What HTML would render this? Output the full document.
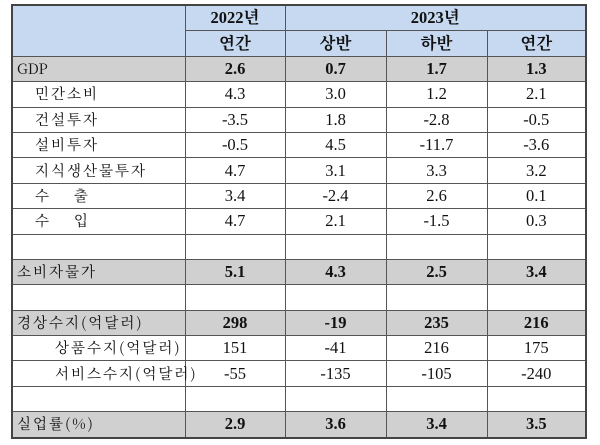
<!DOCTYPE html>
<html><head><meta charset="utf-8"><style>
html,body{margin:0;padding:0;background:#fff;width:600px;height:445px;overflow:hidden}
table{position:absolute;left:11px;top:4px;border-collapse:collapse;table-layout:fixed;width:574px;
font-family:"Liberation Serif","Noto Serif CJK SC",serif;font-size:16.5px;color:#111}
td{border:1px solid #555;height:24.4px;padding:0;text-align:center;line-height:20px;white-space:pre}
tr.h td{background:#c6d9f0;font-weight:bold}
tr.g td{background:#d0d0d0}
tr.g td.n{font-weight:bold}
td.l{text-align:left;padding-left:4px;font-family:"Noto Serif CJK SC","Liberation Serif",serif;font-size:14.5px;letter-spacing:2px}
td.l1{padding-left:22px}td.l2{padding-left:42px}
table{border:2px solid #444}
</style></head><body>
<table>
<colgroup><col style="width:173px"><col style="width:100px"><col style="width:101px"><col style="width:101px"><col style="width:99px"></colgroup>
<tr class="h"><td rowspan="2"></td><td>2022년</td><td colspan="3">2023년</td></tr>
<tr class="h"><td>연간</td><td>상반</td><td>하반</td><td>연간</td></tr>
<tr class="g"><td class="l" style="letter-spacing:0">GDP</td><td class="n">2.6</td><td class="n">0.7</td><td class="n">1.7</td><td class="n">1.3</td></tr>
<tr><td class="l l1">민간소비</td><td>4.3</td><td>3.0</td><td>1.2</td><td>2.1</td></tr>
<tr><td class="l l1">건설투자</td><td>-3.5</td><td>1.8</td><td>-2.8</td><td>-0.5</td></tr>
<tr><td class="l l1">설비투자</td><td>-0.5</td><td>4.5</td><td>-11.7</td><td>-3.6</td></tr>
<tr><td class="l l1">지식생산물투자</td><td>4.7</td><td>3.1</td><td>3.3</td><td>3.2</td></tr>
<tr><td class="l l1">수    출</td><td>3.4</td><td>-2.4</td><td>2.6</td><td>0.1</td></tr>
<tr><td class="l l1">수    입</td><td>4.7</td><td>2.1</td><td>-1.5</td><td>0.3</td></tr>
<tr><td></td><td></td><td></td><td></td><td></td></tr>
<tr class="g"><td class="l">소비자물가</td><td class="n">5.1</td><td class="n">4.3</td><td class="n">2.5</td><td class="n">3.4</td></tr>
<tr><td></td><td></td><td></td><td></td><td></td></tr>
<tr class="g"><td class="l">경상수지(억달러)</td><td class="n">298</td><td class="n">-19</td><td class="n">235</td><td class="n">216</td></tr>
<tr><td class="l l2">상품수지(억달러)</td><td>151</td><td>-41</td><td>216</td><td>175</td></tr>
<tr><td class="l l2">서비스수지(억달러)</td><td>-55</td><td>-135</td><td>-105</td><td>-240</td></tr>
<tr><td></td><td></td><td></td><td></td><td></td></tr>
<tr class="g"><td class="l">실업률(%)</td><td class="n">2.9</td><td class="n">3.6</td><td class="n">3.4</td><td class="n">3.5</td></tr>
</table>
</body></html>
